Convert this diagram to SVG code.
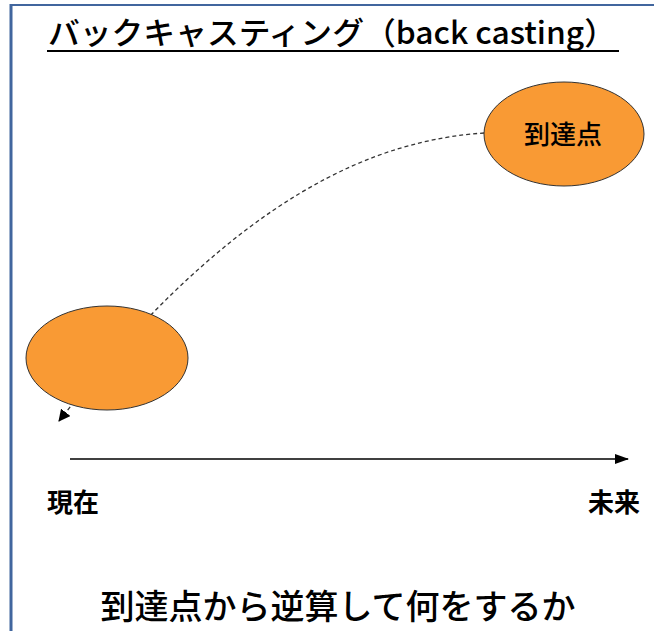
<svg xmlns="http://www.w3.org/2000/svg" width="654" height="631" viewBox="0 0 654 631">
<style>
.jp{font-family:"Noto Sans CJK JP","Noto Sans",sans-serif;fill:#000}
.node{fill:#F99A34;stroke:#333;stroke-width:1}
</style>
<defs>
<marker id="ah" markerWidth="12" markerHeight="12" refX="11" refY="6" orient="auto" markerUnits="userSpaceOnUse">
<path d="M0,0 L12,6 L0,12 Z" fill="#000"/>
</marker>
<marker id="ah2" markerWidth="14" markerHeight="12" refX="13" refY="6" orient="auto" markerUnits="userSpaceOnUse">
<path d="M0,1 L14,6 L0,11 Z" fill="#000"/>
</marker>
</defs>
<rect width="654" height="631" fill="#fff"/>
<g id="frame">
<line x1="11" y1="5" x2="654" y2="5" stroke="#41669E" stroke-width="2"/>
<line x1="11" y1="4" x2="11" y2="631" stroke="#41669E" stroke-width="3"/>
</g>
<g id="title">
<text class="jp" x="48" y="44" font-size="31" font-weight="500" textLength="568" lengthAdjust="spacingAndGlyphs">バックキャスティング（back casting）</text>
<line x1="47" y1="51" x2="619" y2="51" stroke="#000" stroke-width="2"/>
</g>
<g id="connectors">
<path d="M484,133 C380,140 240,190 59,421" fill="none" stroke="#333" stroke-width="1.3" stroke-dasharray="4,3" marker-end="url(#ah)"/>
<line x1="70" y1="459" x2="628" y2="459" stroke="#000" stroke-width="1.3" marker-end="url(#ah2)"/>
</g>
<g id="current">
<ellipse class="node" cx="107" cy="358" rx="81" ry="52"/>
</g>
<g id="goal">
<ellipse class="node" cx="564" cy="134" rx="80" ry="52"/>
<text class="jp" x="563" y="144" font-size="26" font-weight="500" text-anchor="middle">到達点</text>
</g>
<g id="labels">
<text class="jp" x="47" y="512" font-size="26" font-weight="bold">現在</text>
<text class="jp" x="588" y="512" font-size="26" font-weight="bold">未来</text>
<text class="jp" x="338" y="619" font-size="34" font-weight="500" text-anchor="middle">到達点から逆算して何をするか</text>
</g>
</svg>
